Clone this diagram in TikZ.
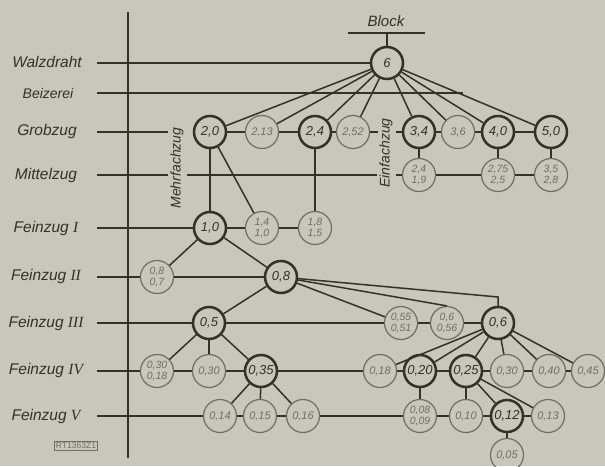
\documentclass[tikz,border=0pt]{standalone}
\usepackage{fontspec}
\setmainfont{Liberation Sans}
\newfontfamily\romfont{Liberation Serif}
\definecolor{paper}{RGB}{201,199,186}
\definecolor{ink}{RGB}{50,50,44}
\definecolor{pale}{RGB}{110,110,102}
\newcommand{\rnum}[1]{{\romfont\itshape #1}}
\begin{document}
\begin{tikzpicture}[x=1pt,y=-1pt,
  line/.style={draw=ink,line width=1.5pt},
  heavy/.style={circle,draw=ink,line width=2.5pt,minimum size=32pt,inner sep=0pt,text=ink,
    font=\itshape\fontsize{13}{13}\selectfont},
  light/.style={circle,draw=pale,line width=1.2pt,minimum size=33pt,inner sep=0pt,text=pale,
    font=\itshape\fontsize{11}{11}\selectfont},
  twin/.style={light,align=center,font=\itshape\fontsize{10.5}{10.5}\selectfont},
  stage/.style={text=ink,font=\itshape\fontsize{15.5}{15.5}\selectfont},
  sidenote/.style={text=ink,font=\itshape\fontsize{14}{14}\selectfont,rotate=90},
]
\fill[paper] (0,0) rectangle (605,466);
\useasboundingbox (0,0) rectangle (605,466);

% stage names
\node[stage] (tW)  at (47,62)  {Walzdraht};
\node[stage,font=\itshape\fontsize{14}{14}\selectfont] (tB) at (48,93) {Beizerei};
\node[stage] (tG)  at (47,131) {Grobzug};
\node[stage] (tM)  at (46,175) {Mittelzug};
\node[stage] (t1)  at (46,228) {Feinzug \rnum{I}};
\node[stage] (t2)  at (46,276) {Feinzug \rnum{II}};
\node[stage] (t3)  at (46,323) {Feinzug \rnum{III}};
\node[stage] (t4)  at (46,370) {Feinzug \rnum{IV}};
\node[stage] (t5)  at (46,416) {Feinzug \rnum{V}};
\node[draw=pale,line width=0.6pt,text=pale,inner sep=1.5pt,
  font=\fontsize{8.5}{8.5}\selectfont] (ref) at (76,446) {RT1363Z1};

% vertical axis
\coordinate (axT) at (128,12);
\coordinate (axB) at (128,458);
\draw[line] (axT) -- (axB);

% rotated side notes
\node[sidenote] (mehr) at (177,168) {Mehrfachzug};
\node[sidenote] (einf) at (386,153) {Einfachzug};

% Block
\node[text=ink,font=\itshape\fontsize{15}{15}\selectfont] (blk) at (386,21) {Block};
\coordinate (blkL) at (348,33);
\coordinate (blkR) at (425,33);
\coordinate (blkM) at (387,33);

% nodes
\node[heavy] (n6) at (387,63) {6};

\node[heavy] (g20)  at (210,132) {2,0};
\node[light] (g213) at (262,132) {2,13};
\node[heavy] (g24)  at (315,132) {2,4};
\node[light] (g252) at (353,132) {2,52};
\node[heavy] (g34)  at (419,132) {3,4};
\node[light] (g36)  at (458,132) {3,6};
\node[heavy] (g40)  at (498,132) {4,0};
\node[heavy] (g50)  at (551,132) {5,0};

\node[twin] (m24)  at (419,175) {2,4\\1,9};
\node[twin] (m275) at (498,175) {2,75\\2,5};
\node[twin] (m35)  at (551,175) {3,5\\2,8};

\node[heavy] (f10) at (210,228) {1,0};
\node[twin]  (f14) at (262,228) {1,4\\1,0};
\node[twin]  (f18) at (315,228) {1,8\\1,5};

\node[twin]  (f08a) at (157,277) {0,8\\0,7};
\node[heavy] (f08)  at (281,277) {0,8};

\node[heavy] (f05)  at (209,323) {0,5};
\node[twin]  (f055) at (401,323) {0,55\\0,51};
\node[twin]  (f06a) at (447,323) {0,6\\0,56};
\node[heavy] (f06)  at (498,323) {0,6};

\node[twin]  (f030a) at (157,371) {0,30\\0,18};
\node[light] (f030)  at (209,371) {0,30};
\node[heavy] (f035)  at (261,371) {0,35};
\node[light] (f018)  at (380,371) {0,18};
\node[heavy] (f020)  at (420,371) {0,20};
\node[heavy] (f025)  at (466,371) {0,25};
\node[light] (f030b) at (507,371) {0,30};
\node[light] (f040)  at (549,371) {0,40};
\node[light] (f045)  at (588,371) {0,45};

\node[light] (v014) at (220,416) {0,14};
\node[light] (v015) at (260,416) {0,15};
\node[light] (v016) at (303,416) {0,16};
\node[twin]  (v008) at (420,416) {0,08\\0,09};
\node[light] (v010) at (466,416) {0,10};
\node[heavy] (v012) at (507,416) {0,12};
\node[light] (v013) at (548,416) {0,13};
\node[light] (v005) at (507,455) {0,05};

% free ends of the stage lines
\coordinate (lW) at (97,63);
\coordinate (lB) at (97,93);
\coordinate (rB) at (463,93);
\coordinate (lG) at (97,132);
\coordinate (gA) at (168,132);
\coordinate (gB) at (378,132);
\coordinate (gC) at (396,132);
\coordinate (lM) at (97,175);
\coordinate (mA) at (168,175);
\coordinate (mB) at (187,175);
\coordinate (mC) at (377,175);
\coordinate (mD) at (396,175);
\coordinate (l1) at (97,228);
\coordinate (l2) at (97,277);
\coordinate (l3) at (97,323);
\coordinate (l4) at (97,371);
\coordinate (l5) at (97,416);
\coordinate (k06) at (498,297);

% stage lines
\draw[line] (blkL) -- (blkR);
\draw[line] (blkM) -- (n6);
\draw[line] (lW) -- (n6);
\draw[line] (lB) -- (rB);
\draw[line] (lG) -- (gA);
\draw[line] (g20) -- (g213) -- (g24) -- (g252) -- (gB);
\draw[line] (gC) -- (g34) -- (g36) -- (g40) -- (g50);
\draw[line] (lM) -- (mA);
\draw[line] (mB) -- (mC);
\draw[line] (mD) -- (m24) -- (m275) -- (m35);
\draw[line] (l1) -- (f10) -- (f14) -- (f18);
\draw[line] (l2) -- (f08a) -- (f08);
\draw[line] (l3) -- (f05) -- (f055) -- (f06a) -- (f06);
\draw[line] (l4) -- (f030a) -- (f030) -- (f035) -- (f018) -- (f020) -- (f025) -- (f030b) -- (f040) -- (f045);
\draw[line] (l5) -- (v014) -- (v015) -- (v016) -- (v008) -- (v010) -- (v012) -- (v013);

% branches
\foreach \t in {g20,g213,g24,g252,g34,g36,g40,g50}
  \draw[line] (n6) -- (\t);
\draw[line] (g34) -- (m24);
\draw[line] (g40) -- (m275);
\draw[line] (g50) -- (m35);
\draw[line] (g20) -- (f10);
\draw[line] (g20) -- (f14);
\draw[line] (g24) -- (f18);
\draw[line] (f10) -- (f08a);
\draw[line] (f10) -- (f08);
\draw[line] (f08) -- (f05);
\draw[line] (f08) -- (f055);
\draw[line] (f08) -- (f06a.north);
\draw[line] (f08) -- (k06) -- (f06);
\foreach \t in {f030a,f030,f035}
  \draw[line] (f05) -- (\t);
\foreach \t in {f018,f020,f025,f030b,f040,f045}
  \draw[line] (f06) -- (\t);
\foreach \t in {v014,v015,v016}
  \draw[line] (f035) -- (\t);
\draw[line] (f020) -- (v008);
\foreach \t in {v010,v012,v013}
  \draw[line] (f025) -- (\t);
\draw[line] (v012) -- (v005);
\end{tikzpicture}
\end{document}
